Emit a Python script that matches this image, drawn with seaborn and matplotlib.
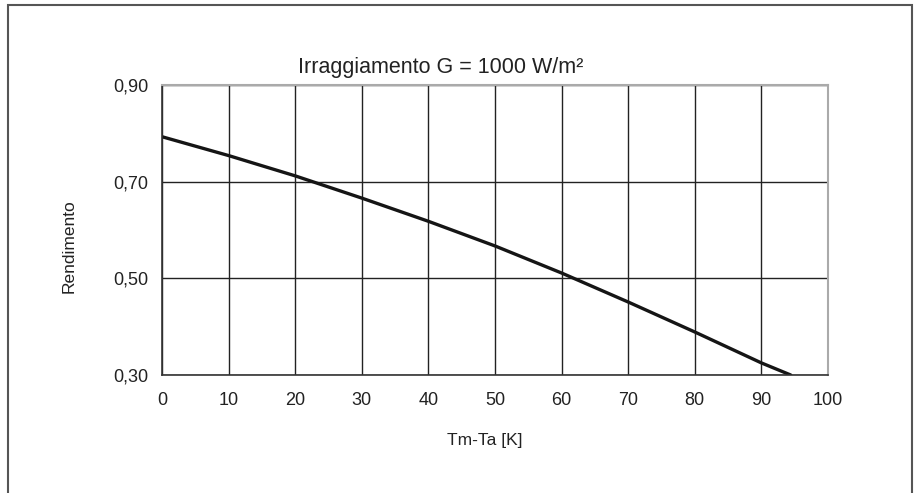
import matplotlib
matplotlib.use("Agg")
import matplotlib.pyplot as plt
import seaborn as sns
import pandas as pd
from matplotlib.patches import Rectangle

# valori
delta_t = [0, 10, 20, 30, 40, 50, 60, 70, 80, 90, 94.4]
rendimento = [0.793, 0.754, 0.712, 0.666, 0.618, 0.567, 0.511, 0.451, 0.389, 0.325, 0.30]
y_ticks = [0.30, 0.50, 0.70, 0.90]
y_labels = ["0,30", "0,50", "0,70", "0,90"]
x_ticks = [0, 10, 20, 30, 40, 50, 60, 70, 80, 90, 100]

df = pd.DataFrame({"dT": delta_t, "eta": rendimento})

sns.set_style("white")
plt.rcParams["font.family"] = ["Liberation Sans", "DejaVu Sans"]

fig = plt.figure(figsize=(9.18, 4.93), dpi=100)
ax = fig.add_axes([162 / 918, 1 - 375 / 493, (828 - 162) / 918, (375 - 85) / 493])

sns.lineplot(data=df, x="dT", y="eta", ax=ax, color="#151515", linewidth=2.4)

ax.set_xlim(0, 100)
ax.set_ylim(0.30, 0.90)
ax.set_xticks(x_ticks)
ax.set_xticklabels([str(v) for v in x_ticks])
ax.set_yticks(y_ticks)
ax.set_yticklabels(y_labels)
ax.grid(True, color="#222222", linewidth=1.0)
ax.set_axisbelow(True)
ax.tick_params(axis="both", direction="out", length=5, width=1, color="#333333",
               labelsize=13, labelcolor="#222222")
ax.tick_params(axis="y", pad=5)
ax.tick_params(axis="x", pad=7)
ax.set_xlabel("")
ax.set_ylabel("")

for s in ["left", "bottom"]:
    ax.spines[s].set_color("#333333")
    ax.spines[s].set_linewidth(1.2)
for s in ["top", "right"]:
    ax.spines[s].set_color("#aaaaaa")
    ax.spines[s].set_linewidth(1.5)

fig.text(441 / 918, 1 - 73 / 493, "Irraggiamento G = 1000 W/m²", ha="center", va="baseline",
         fontsize=15.5, color="#222222")
fig.text(69 / 918, 1 - 246 / 493, "Rendimento", rotation=90, ha="center", va="center",
         fontsize=12.5, color="#222222")
fig.text(485 / 918, 1 - 441 / 493, "Tm-Ta [K]", ha="center", va="center",
         fontsize=12.5, color="#222222")

# cornice esterna
fig.patches.append(Rectangle((8 / 918, -0.05), (912 - 8) / 918, 1.05 - 5.5 / 493,
                             transform=fig.transFigure, fill=False,
                             edgecolor="#555555", linewidth=1.5))

fig.savefig("out.png", dpi=100)
